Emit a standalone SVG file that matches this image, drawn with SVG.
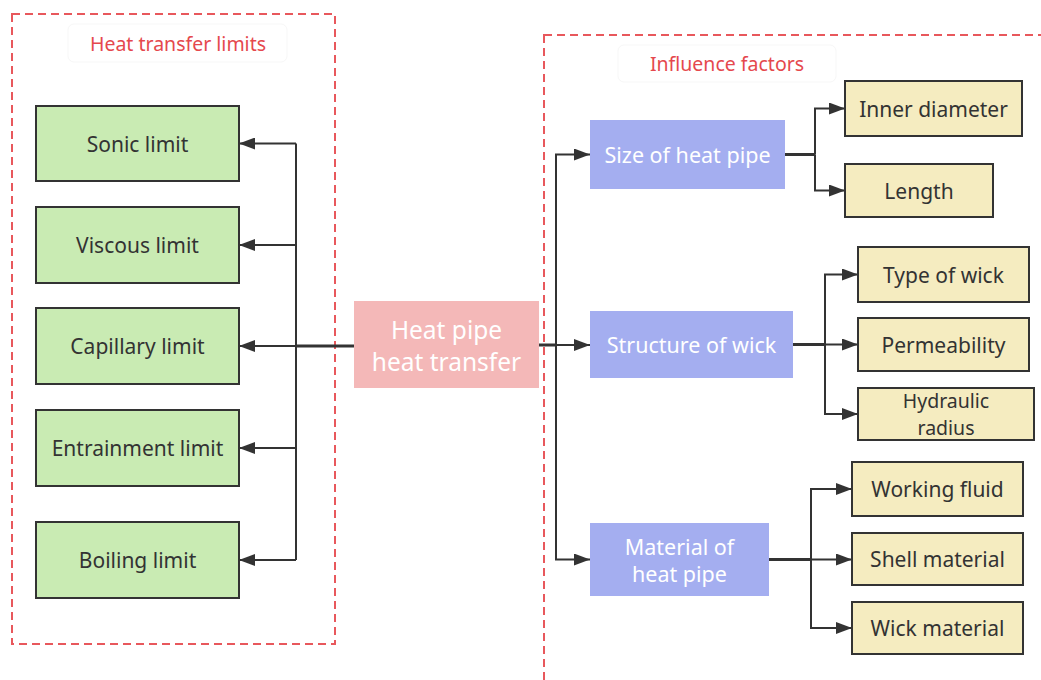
<svg xmlns="http://www.w3.org/2000/svg" width="1041" height="680" viewBox="0 0 1041 680">
<defs>
<style>
.grp{fill:none;stroke:#e8585c;stroke-width:2;stroke-dasharray:8,5}
.lbl{fill:#fff;stroke:#f7f7f7;stroke-width:1}
.ltx{font-family:"Noto Sans","Open Sans",sans-serif;font-size:19.5px;fill:#e5484d;text-anchor:middle;dominant-baseline:central}
.g{fill:#c9ebb3;stroke:#333;stroke-width:2}
.y{fill:#f5ecc0;stroke:#333;stroke-width:2}
.b{fill:#a4aef0}
.p{fill:#f4b8b8}
.t{font-family:"Noto Sans","Open Sans",sans-serif;font-size:21px;fill:#333;text-anchor:middle;dominant-baseline:central}
.ts{font-family:"Noto Sans","Open Sans",sans-serif;font-size:19.5px;fill:#333;text-anchor:middle;dominant-baseline:central}
.w{font-family:"Noto Sans","Open Sans",sans-serif;font-size:21.5px;fill:#fff;text-anchor:middle;dominant-baseline:central}
.wl{font-family:"Noto Sans","Open Sans",sans-serif;font-size:24.5px;fill:#fff;text-anchor:middle;dominant-baseline:central}
.c{fill:none;stroke:#333;stroke-width:2}
.ct{fill:none;stroke:#333;stroke-width:3}
</style>
<marker id="ah" viewBox="0 0 16 12" refX="16" refY="6" markerWidth="16" markerHeight="12" markerUnits="userSpaceOnUse" orient="auto">
<path d="M0,0 L16,6 L0,12 z" fill="#333"/>
</marker>
</defs>
<rect width="1041" height="680" fill="#fff"/>

<g id="group-limits">
<rect class="grp" x="12" y="14" width="323" height="630"/>
<rect class="lbl" x="68" y="24" width="219" height="38" rx="6"/>
<text class="ltx" x="178" y="43">Heat transfer limits</text>
</g>
<g id="group-factors">
<rect class="grp" x="544" y="35" width="520" height="680"/>
<rect class="lbl" x="618" y="45" width="218" height="37" rx="6"/>
<text class="ltx" x="727" y="63">Influence factors</text>
</g>

<g id="connectors">
<path class="ct" d="M354,346 H296"/>
<path class="c" d="M296,143.5 V560"/>
<path class="c" d="M296,143.5 H239" marker-end="url(#ah)"/>
<path class="c" d="M296,245 H239" marker-end="url(#ah)"/>
<path class="c" d="M296,346 H239" marker-end="url(#ah)"/>
<path class="c" d="M296,448 H239" marker-end="url(#ah)"/>
<path class="c" d="M296,560 H239" marker-end="url(#ah)"/>

<path class="ct" d="M539,345 H556"/>
<path class="c" d="M556,345 H590" marker-end="url(#ah)"/>
<path class="c" d="M556,345 V154.5 H590" marker-end="url(#ah)"/>
<path class="c" d="M556,345 V559.5 H590" marker-end="url(#ah)"/>

<path class="ct" d="M785,154.5 H815"/>
<path class="c" d="M815,154.5 V108.5 H845" marker-end="url(#ah)"/>
<path class="c" d="M815,154.5 V190.5 H845" marker-end="url(#ah)"/>

<path class="ct" d="M793,344.5 H825"/>
<path class="c" d="M825,344.5 H858" marker-end="url(#ah)"/>
<path class="c" d="M825,344.5 V274.5 H858" marker-end="url(#ah)"/>
<path class="c" d="M825,344.5 V414 H858" marker-end="url(#ah)"/>

<path class="ct" d="M769,559.5 H811"/>
<path class="c" d="M811,559.5 H852" marker-end="url(#ah)"/>
<path class="c" d="M811,559.5 V489 H852" marker-end="url(#ah)"/>
<path class="c" d="M811,559.5 V628 H852" marker-end="url(#ah)"/>
</g>

<g id="center"><rect class="p" x="354" y="301" width="185" height="87"/>
<text class="wl" x="446.5" y="329">Heat pipe</text><text class="wl" x="446.5" y="361">heat transfer</text></g>

<g id="sonic"><rect class="g" x="36" y="106" width="203" height="75"/><text class="t" x="137.5" y="143.5">Sonic limit</text></g>
<g id="viscous"><rect class="g" x="36" y="207" width="203" height="76"/><text class="t" x="137.5" y="245">Viscous limit</text></g>
<g id="capillary"><rect class="g" x="36" y="308" width="203" height="76"/><text class="t" x="137.5" y="346">Capillary limit</text></g>
<g id="entrainment"><rect class="g" x="36" y="410" width="203" height="76"/><text class="t" x="137.5" y="448">Entrainment limit</text></g>
<g id="boiling"><rect class="g" x="36" y="522" width="203" height="76"/><text class="t" x="137.5" y="560">Boiling limit</text></g>

<g id="size"><rect class="b" x="590" y="120" width="195" height="69"/><text class="w" x="687.5" y="154.5">Size of heat pipe</text></g>
<g id="structure"><rect class="b" x="590" y="311" width="203" height="67"/><text class="w" x="691.5" y="344.5">Structure of wick</text></g>
<g id="material"><rect class="b" x="590" y="523" width="179" height="73"/><text class="w" x="679.5" y="546">Material of</text><text class="w" x="679.5" y="573">heat pipe</text></g>

<g id="inner-diameter"><rect class="y" x="845" y="81" width="177" height="55"/><text class="t" x="933.5" y="108.5">Inner diameter</text></g>
<g id="length"><rect class="y" x="845" y="164" width="148" height="53"/><text class="t" x="919" y="190.5">Length</text></g>
<g id="type-of-wick"><rect class="y" x="858" y="247" width="171" height="55"/><text class="t" x="943.5" y="274.5">Type of wick</text></g>
<g id="permeability"><rect class="y" x="858" y="318" width="171" height="53"/><text class="t" x="943.5" y="344.5">Permeability</text></g>
<g id="hydraulic-radius"><rect class="y" x="858" y="388" width="176" height="52"/><text class="ts" x="946" y="400">Hydraulic</text><text class="ts" x="946" y="427">radius</text></g>
<g id="working-fluid"><rect class="y" x="852" y="462" width="171" height="54"/><text class="t" x="937.5" y="489">Working fluid</text></g>
<g id="shell-material"><rect class="y" x="852" y="533" width="171" height="52"/><text class="t" x="937.5" y="559">Shell material</text></g>
<g id="wick-material"><rect class="y" x="852" y="602" width="171" height="52"/><text class="t" x="937.5" y="628">Wick material</text></g>
</svg>
